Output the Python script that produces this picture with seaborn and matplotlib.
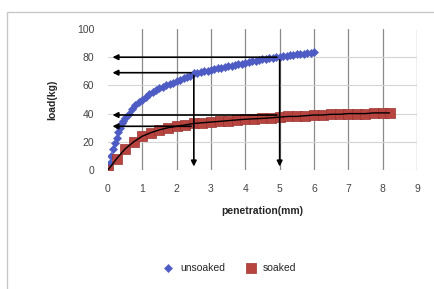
import matplotlib
matplotlib.use('Agg')
import matplotlib.pyplot as plt
import seaborn as sns
import pandas as pd
from matplotlib.patches import Rectangle

# unsoaked sample: penetration (mm) vs load (kg)
unsoaked_pen = [0.0, 0.05, 0.1, 0.15, 0.2, 0.25, 0.3, 0.35, 0.4, 0.45, 0.5,
                0.6, 0.7, 0.8, 0.9,
                1.0, 1.1, 1.2, 1.3, 1.4, 1.5, 1.6, 1.7, 1.8, 1.9,
                2.0, 2.1, 2.2, 2.3, 2.4, 2.5, 2.6, 2.7, 2.8, 2.9,
                3.0, 3.1, 3.2, 3.3, 3.4, 3.5, 3.6, 3.7, 3.8, 3.9,
                4.0, 4.1, 4.2, 4.3, 4.4, 4.5, 4.6, 4.7, 4.8, 4.9,
                5.0, 5.1, 5.2, 5.3, 5.4, 5.5, 5.6, 5.7, 5.8, 5.9, 6.0]
unsoaked_load = [0, 5, 10, 15, 19, 23, 27, 30, 33, 35, 37,
                 40, 43, 46, 48,
                 50, 52, 54, 55, 57, 58, 59, 60, 61, 62,
                 63, 64, 65, 66, 67, 68.5, 69, 69.5, 70, 70.5,
                 71, 71.5, 72, 72.5, 73, 73.5, 74, 74.5, 75, 75.5,
                 76, 76.5, 77, 77.5, 78, 78.5, 79, 79.3, 79.6, 80,
                 80.3, 80.7, 81, 81.3, 81.7, 82, 82.3, 82.6, 83, 83.2, 83.5]

# soaked sample
soaked_pen = [0.0, 0.25, 0.5, 0.75, 1.0, 1.25, 1.5, 1.75, 2.0, 2.25,
              2.5, 2.75, 3.0, 3.25, 3.5, 3.75, 4.0, 4.25, 4.5, 4.75,
              5.0, 5.25, 5.5, 5.75, 6.0, 6.25, 6.5, 6.75, 7.0, 7.25,
              7.5, 7.75, 8.0, 8.2]
soaked_load = [0, 8, 15, 20, 24, 26.5, 28.5, 30, 31, 32,
               33, 33.5, 34, 34.5, 35, 35.5, 36, 36.3, 36.6, 37,
               37.5, 38, 38, 38.5, 39, 39, 39.5, 39.5, 40, 40,
               40, 40.5, 40.5, 40.5]

# readings at 2.5 mm and 5 mm
read_pen = [2.5, 5.0]
unsoaked_read = [69, 80]
soaked_read = [31, 39]

x_ticks = [0, 1, 2, 3, 4, 5, 6, 7, 8, 9]
y_ticks = [0, 20, 40, 60, 80, 100]

sns.set_style('white')
plt.rcParams['font.family'] = ['Liberation Sans', 'DejaVu Sans']

fig = plt.figure(figsize=(4.35, 2.89), dpi=100)
fig.patches.append(Rectangle((7 / 435, -0.1), 1.2, 1 - 12 / 289 + 0.1,
                             transform=fig.transFigure, fill=False,
                             edgecolor='#c8c8c8', linewidth=1.0))
ax = fig.add_axes([108 / 435, 1 - 170 / 289, (417 - 108) / 435, (170 - 29) / 289])

un = pd.DataFrame({'pen': unsoaked_pen, 'load': unsoaked_load})
so = pd.DataFrame({'pen': soaked_pen, 'load': soaked_load})

for x in x_ticks[1:]:
    ax.axvline(x, color='#8a8a8a', lw=0.9, zorder=0)
for y in y_ticks[:-1]:
    ax.axhline(y, color='#d4d4d4', lw=0.8, zorder=0)

sns.scatterplot(data=un, x='pen', y='load', ax=ax, marker='D', s=18,
                color='#4d5bc6', edgecolor='#5560c0', linewidth=0.3,
                label='unsoaked', zorder=3)
sns.scatterplot(data=so, x='pen', y='load', ax=ax, marker='s', s=45,
                color='#b8443f', edgecolor='#9c3430', linewidth=0.5,
                label='soaked', zorder=3)
sns.lineplot(data=so, x='pen', y='load', ax=ax, color='black', lw=1.0,
             zorder=4, legend=False)

arrow = dict(arrowstyle='-|>', color='black', lw=1.2, mutation_scale=8)
for p, a, b in zip(read_pen, unsoaked_read, soaked_read):
    ax.annotate('', xy=(0.05, a), xytext=(p, a), arrowprops=arrow, zorder=5)
    ax.annotate('', xy=(0.05, b), xytext=(p, b), arrowprops=arrow, zorder=5)
    ax.annotate('', xy=(p, 0.5), xytext=(p, a), arrowprops=arrow, zorder=5)

ax.set_xlim(0, 9)
ax.set_ylim(0, 100)
ax.set_xticks(x_ticks)
ax.set_yticks(y_ticks)
ax.tick_params(length=0, labelsize=7.5, colors='#444444', pad=10)
for s in ax.spines.values():
    s.set_visible(False)
ax.set_xlabel('penetration(mm)', fontsize=7.5, fontweight='bold', labelpad=9)
ax.set_ylabel('load(kg)', fontsize=7.5, fontweight='bold', labelpad=14)

h, l = ax.get_legend_handles_labels()
ax.legend_.remove()
fig.legend(h, l, loc='center', bbox_to_anchor=(227 / 435, 1 - 268 / 289),
           ncol=2, frameon=False, fontsize=7.5, handletextpad=0.1,
           columnspacing=1.5, markerscale=1.0)

fig.savefig('out.png', dpi=100)
